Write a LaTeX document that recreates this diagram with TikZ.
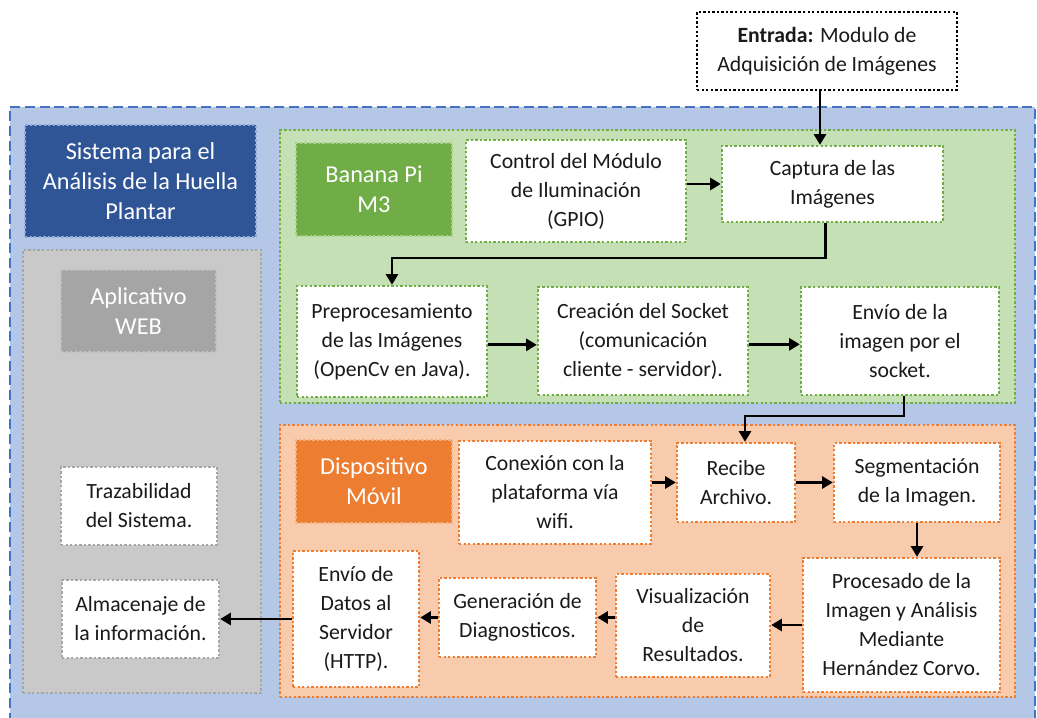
\documentclass[tikz,border=0pt]{standalone}
\usepackage{fontspec}
\setmainfont{Carlito}
\usetikzlibrary{arrows.meta,calc}
\definecolor{bluebg}{HTML}{B4C7E7}
\definecolor{bluedash}{HTML}{4472C4}
\definecolor{darkblue}{HTML}{2F5597}
\definecolor{darkbluebd}{HTML}{8FAADC}
\definecolor{graybg}{HTML}{C9C9C9}
\definecolor{graybd}{HTML}{A5A5A5}
\definecolor{graylab}{HTML}{A5A5A5}
\definecolor{graylabbd}{HTML}{BFBFBF}
\definecolor{greenbg}{HTML}{C5E0B4}
\definecolor{greenbd}{HTML}{70AD47}
\definecolor{greenlabbd}{HTML}{A9D18E}
\definecolor{orangebg}{HTML}{F8CBAD}
\definecolor{orangebd}{HTML}{ED7D31}
\definecolor{orangelabbd}{HTML}{F4B183}
\definecolor{txt}{HTML}{1A1A1A}
\newcommand\mybox[7]{%
  \pgfmathsetmacro\cx{(#2+#4)/2}\pgfmathsetmacro\cy{(#3+#5)/2}%
  \pgfmathsetmacro\ww{(#4-#2)*0.75}\pgfmathsetmacro\hh{(#5-#3)*0.75}%
  \node[#6, minimum width=\ww pt, minimum height=\hh pt] (#1) at (\cx,\cy) {#7};}
\tikzset{
  base/.style={inner sep=0pt, align=center, font=\fontsize{16.3}{21.75}\selectfont, text=txt},
  dots/.style={line width=1.8pt, dash pattern=on 1.8pt off 1.6pt},
  whitebox/.style={base, fill=white, draw=#1, dots},
  cont/.style={base, fill=#1, dots},
  lab/.style={base, text=white, dots, font=\fontsize{18.2}{22.5}\selectfont},
  arr/.style={line width=2.2pt, -{Triangle[length=8pt,width=9pt]}, line join=miter}
}
\begin{document}
\begin{tikzpicture}[x=0.75pt,y=-0.75pt]
\useasboundingbox (0,0) rectangle (1037,717);
% outer blue
\mybox{outer}{10}{107}{1035}{722}{base, fill=bluebg, draw=bluedash, line width=1.9pt, dash pattern=on 7.5pt off 3.5pt}{}
% entrada
\mybox{ent}{697}{12}{957}{90}{whitebox=black}{\textbf{Entrada:} Modulo de\\Adquisición de Imágenes}
% sistema
\mybox{sis}{25}{125}{256}{237}{lab, fill=darkblue, draw=darkbluebd}{Sistema para el\\Análisis de la Huella\\Plantar}
% gray container
\mybox{gcont}{23}{250}{261}{693}{cont=graybg, draw=graybd}{}
\mybox{web}{61}{270}{216}{352}{lab, fill=graylab, draw=graylabbd}{Aplicativo\\WEB}
\mybox{traz}{61}{467}{217}{545}{whitebox=graybd}{Trazabilidad\\del Sistema.}
\mybox{alm}{62}{580}{219}{658}{whitebox=graybd}{Almacenaje de\\la información.}
% green container
\mybox{gr}{280}{130}{1015}{403}{cont=greenbg, draw=greenbd}{}
\mybox{bpi}{296}{143}{452}{236}{lab, fill=greenbd, draw=greenlabbd}{Banana Pi\\M3}
\mybox{ctrl}{466}{140}{686}{242}{whitebox=greenbd}{Control del Módulo\\de Iluminación\\(GPIO)}
\mybox{capt}{722}{146}{943}{222}{whitebox=greenbd}{Captura de las\\Imágenes}
\mybox{pre}{297}{286}{487}{397}{whitebox=greenbd}{Preprocesamiento\\de las Imágenes\\(OpenCv en Java).}
\mybox{soc}{538}{287}{748}{395}{whitebox=greenbd}{Creación del Socket\\(comunicación\\cliente - servidor).}
\mybox{env}{801}{287}{999}{395}{whitebox=greenbd}{Envío de la\\imagen por el\\socket.}
% orange container
\mybox{or}{280}{425}{1015}{697}{cont=orangebg, draw=orangebd}{}
\mybox{dm}{296}{440}{452}{523}{lab, fill=orangebd, draw=orangelabbd}{Dispositivo\\Móvil}
\mybox{con}{459}{441}{651}{544}{whitebox=orangebd}{Conexión con la\\plataforma vía\\wifi.}
\mybox{rec}{677}{443}{795}{522}{whitebox=orangebd}{Recibe\\Archivo.}
\mybox{seg}{834}{443}{1000}{522}{whitebox=orangebd}{Segmentación\\de la Imagen.}
\mybox{proc}{803}{558}{1000}{692}{whitebox=orangebd}{Procesado de la\\Imagen y Análisis\\Mediante\\Hernández Corvo.}
\mybox{vis}{616}{574}{770}{677}{whitebox=orangebd}{Visualización\\de\\Resultados.}
\mybox{gen}{439}{578}{596}{657}{whitebox=orangebd}{Generación de\\Diagnosticos.}
\mybox{envd}{293}{551}{419}{687}{whitebox=orangebd}{Envío de\\Datos al\\Servidor\\(HTTP).}
% connectors
\coordinate (b1) at (0,258);
\coordinate (b2) at (0,416);
\draw[arr] ([xshift=-5.25pt]ent.south) -- ([xshift=-5.25pt]ent.south |- capt.north);
\draw[arr] (ctrl.east |- capt.west) -- (capt.west);
\draw[arr] ([xshift=-5.25pt]capt.south) -- ([xshift=-5.25pt]capt.south |- b1) -| (pre.north);
\draw[arr] ([yshift=-2.5pt]pre.east) -- ([yshift=-2.5pt]pre.east -| soc.west);
\draw[arr] ([yshift=-2.5pt]soc.east) -- ([yshift=-2.5pt]soc.east -| env.west);
\draw[arr] ([xshift=3pt]env.south) -- ([xshift=3pt]env.south |- b2) -| ([xshift=6.75pt]rec.north);
\draw[arr] (rec.west -| con.east) -- (rec.west);
\draw[arr] (rec.east) -- (rec.east -| seg.west);
\draw[arr] (seg.south) -- (seg.south |- proc.north);
\draw[arr] (proc.west) -- (proc.west -| vis.east);
\draw[arr] (vis.west |- gen.east) -- (gen.east);
\draw[arr] (gen.west) -- (gen.west -| envd.east);
\draw[arr] (envd.west) -- (envd.west -| alm.east);
\end{tikzpicture}
\end{document}
